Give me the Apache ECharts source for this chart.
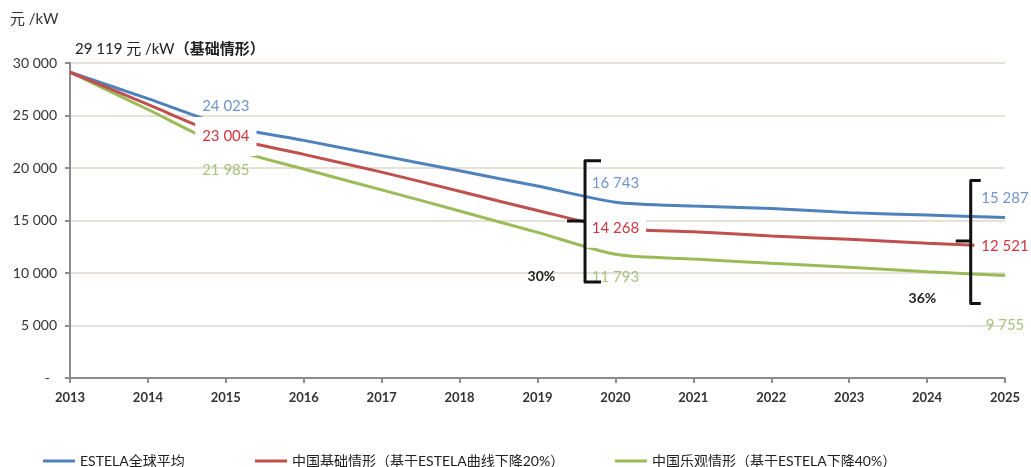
<!DOCTYPE html>
<html>
<head>
<meta charset="utf-8">
<script src="https://cdn.jsdelivr.net/npm/echarts@6/dist/echarts.min.js"></script>
<style>
  html, body { margin: 0; padding: 0; background: #fff; }
  #main { width: 1031px; height: 467px; }
</style>
</head>
<body>
<div id="main"></div>
<script>
const years = [2013, 2014, 2015, 2016, 2017, 2018, 2019, 2020, 2021, 2022, 2023, 2024, 2025];
const estela = [29119, 26600, 24023, 22630, 21180, 19730, 18280, 16743, 16380, 16150, 15750, 15520, 15287];
const chinaBase = [29119, 26050, 23004, 21300, 19610, 17780, 15960, 14268, 13940, 13520, 13210, 12830, 12521];
const chinaOpt = [29119, 25570, 21985, 19900, 17920, 15900, 13870, 11793, 11330, 10920, 10540, 10120, 9755];
const labelYears = [2015, 2020, 2025];
const names = ['ESTELA全球平均', '中国基础情形（基于ESTELA曲线下降20%）', '中国乐观情形（基于ESTELA下降40%）'];
const colors = ['#4f81bd', '#c0504d', '#9bbb59'];
const labelColors = ['#7196cc', '#d0363f', '#a6c27c'];
const font = 'Lato, "Noto Sans CJK SC", sans-serif';

function fmt(v) {
  return String(v).replace(/\B(?=(\d{3})+(?!\d))/g, ' ');
}

// label style per series: blue above, red centred on white box, green below
function makeData(vals, idx) {
  return years.map(function (y, i) {
    const item = { value: [y, vals[i]] };
    if (labelYears.indexOf(y) >= 0) {
      let lab = { show: true, color: labelColors[idx], fontSize: 15, fontFamily: font, formatter: fmt(vals[i]) };
      if (idx === 0) { lab.position = 'top'; lab.distance = 12; }
      if (idx === 1) { lab.position = 'inside'; lab.backgroundColor = '#fff'; lab.padding = [12, 7]; }
      if (idx === 2) { lab.position = 'bottom'; lab.distance = y === 2025 ? 42 : 15; }
      item.label = lab;
    }
    return item;
  });
}

let chart = echarts.init(document.getElementById('main'));
chart.setOption({
  animation: false,
  title: [{
    text: '元 /kW', left: 5, top: 7,
    textStyle: { fontSize: 15, fontWeight: 'normal', color: '#333', fontFamily: font }
  }, {
    text: '{a|29 119 元 /kW}{b|（基础情形）}', left: 70, top: 37,
    textStyle: {
      fontWeight: 'normal',
      rich: {
        a: { fontSize: 15, color: '#222', fontWeight: 'normal', fontFamily: font },
        b: { fontSize: 15, color: '#222', fontWeight: 'bold', fontFamily: font }
      }
    }
  }],
  grid: { left: 70, right: 26, top: 63, bottom: 89 },
  legend: names.map(function (n, i) {
    return {
      data: [n], left: [38, 250, 610][i], top: 449,
      icon: 'rect', itemWidth: 32, itemHeight: 3,
      textStyle: { fontSize: 14, color: '#222', fontFamily: font }
    };
  }),
  xAxis: {
    type: 'value', min: 2013, max: 2025, interval: 1,
    axisLine: { lineStyle: { color: '#8c8c8c', width: 2 } },
    axisTick: { show: true, length: 5, lineStyle: { color: '#8c8c8c', width: 2 } },
    axisLabel: { formatter: function (v) { return String(v); }, fontSize: 13, fontWeight: 'bold', color: '#333', margin: 13, fontFamily: font },
    splitLine: { show: false }
  },
  yAxis: {
    type: 'value', min: 0, max: 30000, interval: 5000,
    axisLine: { show: true, lineStyle: { color: '#8c8c8c', width: 2 } },
    axisTick: { show: true, length: 5, lineStyle: { color: '#8c8c8c', width: 2 } },
    axisLabel: {
      formatter: function (v) { return v === 0 ? '-  ' : fmt(v); },
      fontSize: 14, color: '#333', margin: 13, fontFamily: font
    },
    splitLine: { lineStyle: { color: '#e4e1d8', width: 2 } }
  },
  series: [estela, chinaBase, chinaOpt].map(function (vals, i) {
    return {
      name: names[i], type: 'line', smooth: 0.25,
      z: i === 1 ? 3 : 2,
      symbol: 'circle', symbolSize: 0, showSymbol: true,
      color: colors[i],
      lineStyle: { width: 3, color: colors[i] },
      data: makeData(vals, i)
    };
  })
});

// brackets and percentage notes, placed in data coordinates
const brackets = [
  { x: 2019.61, top: 20700, bottom: 9150, mid: 14950, right: 16, left: 18 },
  { x: 2024.56, top: 18800, bottom: 7100, mid: 13050, right: 10, left: 15 }
];
const notes = [
  { text: '30%', x: 2019.05, y: 9700 },
  { text: '36%', x: 2023.94, y: 7620 }
];

function px(x, y) {
  return chart.convertToPixel({ gridIndex: 0 }, [x, y]);
}

let graphics = [];
brackets.forEach(function (b) {
  const t = px(b.x, b.top), bo = px(b.x, b.bottom), m = px(b.x, b.mid);
  graphics.push({
    type: 'polyline', z: 100,
    shape: { points: [[t[0] + b.right, t[1]], [t[0], t[1]], [bo[0], bo[1]], [bo[0] + b.right, bo[1]]] },
    style: { stroke: '#111', lineWidth: 3, fill: null, lineJoin: 'round' }
  });
  graphics.push({
    type: 'line', z: 100,
    shape: { x1: m[0] - b.left, y1: m[1], x2: m[0], y2: m[1] },
    style: { stroke: '#111', lineWidth: 3 }
  });
});
notes.forEach(function (n) {
  const p = px(n.x, n.y);
  graphics.push({
    type: 'text', z: 100, x: p[0], y: p[1],
    style: { text: n.text, fontSize: 14, fontWeight: 'bold', fill: '#222', fontFamily: font, align: 'center', verticalAlign: 'middle' }
  });
});
chart.setOption({ graphic: graphics });

window.addEventListener('resize', function () {
  chart.resize();
});
</script>
</body>
</html>
